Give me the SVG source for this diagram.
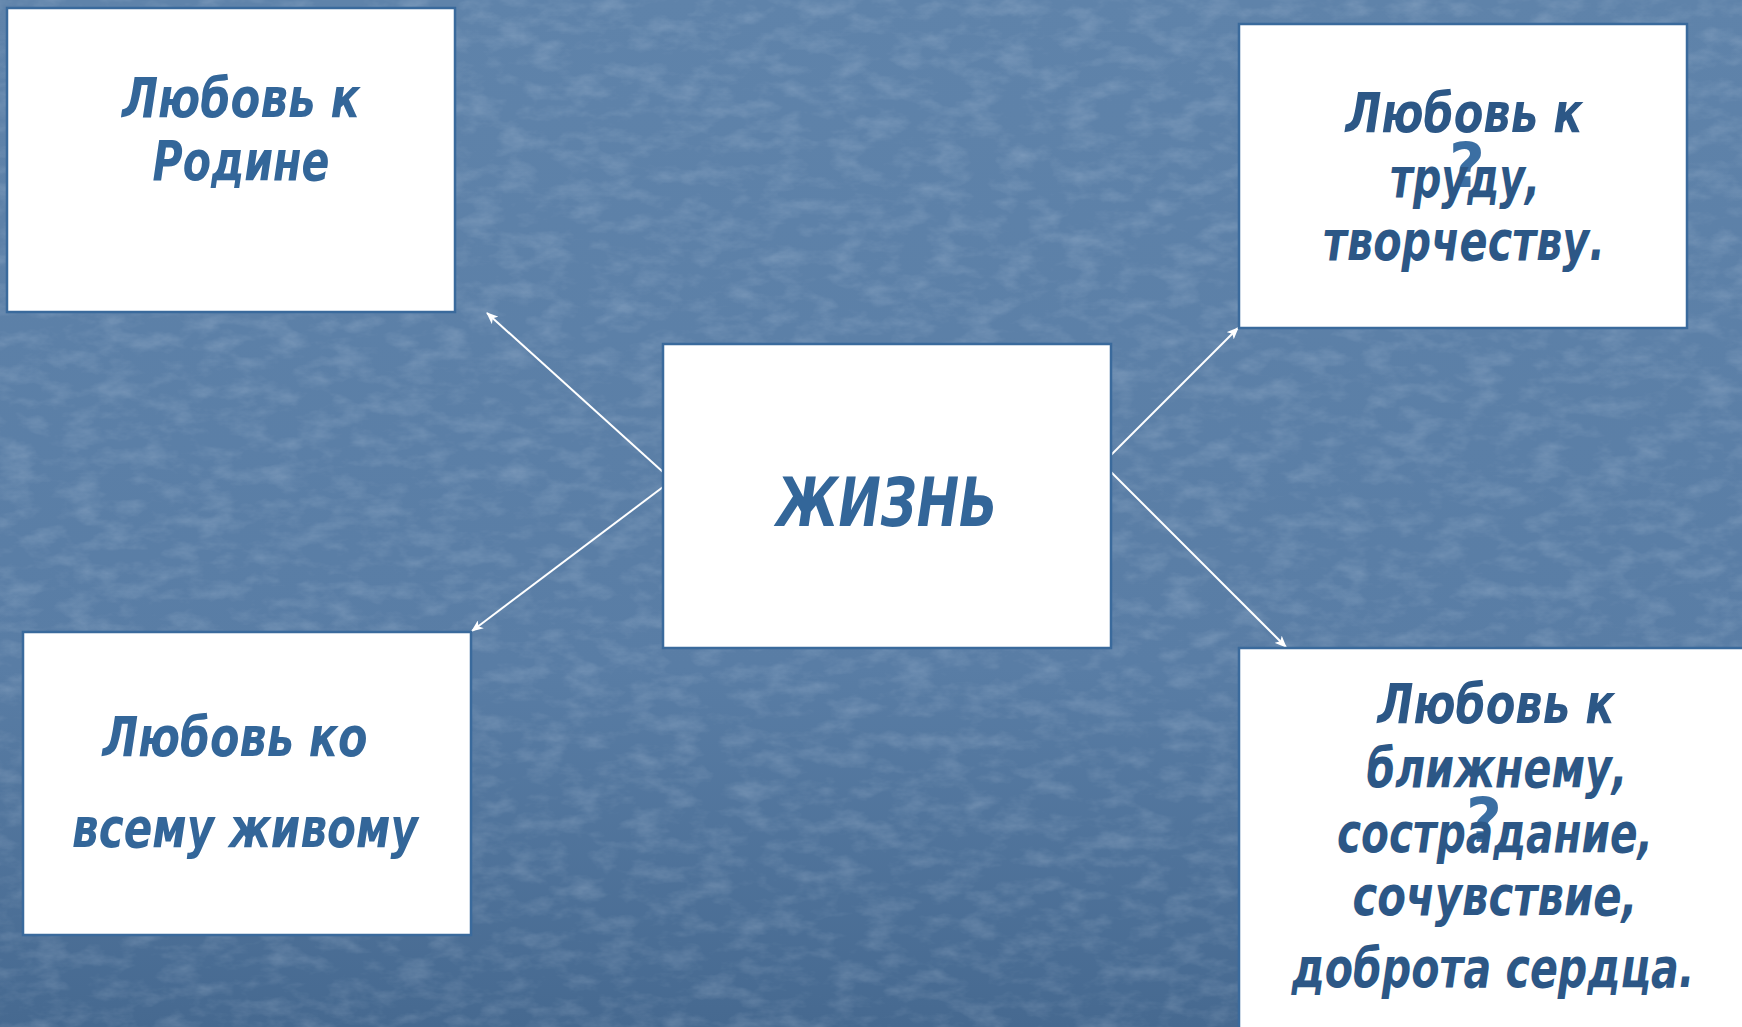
<svg xmlns="http://www.w3.org/2000/svg" width="1742" height="1027" viewBox="0 0 1742 1027">
<defs>
<linearGradient id="bg" x1="0" y1="0" x2="0" y2="1">
<stop offset="0" stop-color="#5f83aa"/>
<stop offset="0.65" stop-color="#597da5"/>
<stop offset="1" stop-color="#466990"/>
</linearGradient>
<filter id="tex" x="0" y="0" width="100%" height="100%">
<feTurbulence type="fractalNoise" baseFrequency="0.03 0.06" numOctaves="4" seed="11" result="n"/>
<feColorMatrix in="n" type="matrix" values="0 0 0 0 0.72  0 0 0 0 0.80  0 0 0 0 0.90  0 0 0 1.4 -0.6"/>
</filter>
<marker id="ah" viewBox="0 0 12 10" refX="11" refY="5" markerWidth="12" markerHeight="10" markerUnits="userSpaceOnUse" orient="auto">
<path d="M0,0 L12,5 L0,10 L3,5 Z" fill="#ffffff"/>
</marker>
<style>
.box{fill:#ffffff;stroke:#3a6a9c;stroke-width:2.5}
.t{font-family:"DejaVu Sans","Liberation Sans",sans-serif;font-weight:bold;font-style:italic;text-anchor:middle}
.lt{fill:#336699}
.dk{fill:#2c5786}
.q{fill:#3b6fa3;font-family:"DejaVu Sans","Liberation Sans",sans-serif;font-weight:bold;text-anchor:middle}
.con{stroke:#ffffff;stroke-width:2;fill:none;marker-end:url(#ah)}
</style>
</defs>
<rect width="1742" height="1027" fill="url(#bg)"/>
<rect width="1742" height="1027" filter="url(#tex)" opacity="0.28"/>
<g id="connectors">
<line class="con" x1="663" y1="472" x2="487" y2="313"/>
<line class="con" x1="663" y1="487" x2="472" y2="631"/>
<line class="con" x1="1111" y1="455" x2="1238" y2="328"/>
<line class="con" x1="1111" y1="472" x2="1286" y2="647"/>
</g>
<g id="node-rodina">
<rect class="box" x="7" y="8" width="448" height="304"/>
<text class="t lt" font-size="56"><tspan x="241" y="117" textLength="238" lengthAdjust="spacingAndGlyphs">Любовь к</tspan><tspan x="241" y="180" textLength="177" lengthAdjust="spacingAndGlyphs">Родине</tspan></text>
</g>
<g id="node-trud">
<rect class="box" x="1239" y="24" width="448" height="304"/>
<text class="q" x="1467" y="187" font-size="62">?</text>
<text class="t dk" font-size="55"><tspan x="1464" y="132" textLength="237" lengthAdjust="spacingAndGlyphs">Любовь к</tspan><tspan x="1465" y="197" textLength="150" lengthAdjust="spacingAndGlyphs">труду,</tspan><tspan x="1464" y="260" textLength="282" lengthAdjust="spacingAndGlyphs">творчеству.</tspan></text>
</g>
<g id="node-zhizn">
<rect class="box" x="663" y="344" width="448" height="304"/>
<text class="t lt" font-size="67" x="887" y="526" textLength="221" lengthAdjust="spacingAndGlyphs">ЖИЗНЬ</text>
</g>
<g id="node-zhivoe">
<rect class="box" x="23" y="632" width="448" height="303"/>
<text class="t lt" font-size="55"><tspan x="235" y="756" textLength="265" lengthAdjust="spacingAndGlyphs">Любовь ко</tspan><tspan x="245" y="847" textLength="346" lengthAdjust="spacingAndGlyphs">всему живому</tspan></text>
</g>
<g id="node-blizhniy">
<rect class="box" x="1239" y="648" width="520" height="400"/>
<text class="q" x="1484" y="842" font-size="62">?</text>
<text class="t dk" font-size="55"><tspan x="1496" y="723" textLength="237" lengthAdjust="spacingAndGlyphs">Любовь к</tspan><tspan x="1497" y="787" textLength="261" lengthAdjust="spacingAndGlyphs">ближнему,</tspan><tspan x="1495" y="852" textLength="316" lengthAdjust="spacingAndGlyphs">сострадание,</tspan><tspan x="1495" y="915" textLength="285" lengthAdjust="spacingAndGlyphs">сочувствие,</tspan><tspan x="1493" y="987" textLength="403" lengthAdjust="spacingAndGlyphs">доброта сердца.</tspan></text>
</g>
</svg>
